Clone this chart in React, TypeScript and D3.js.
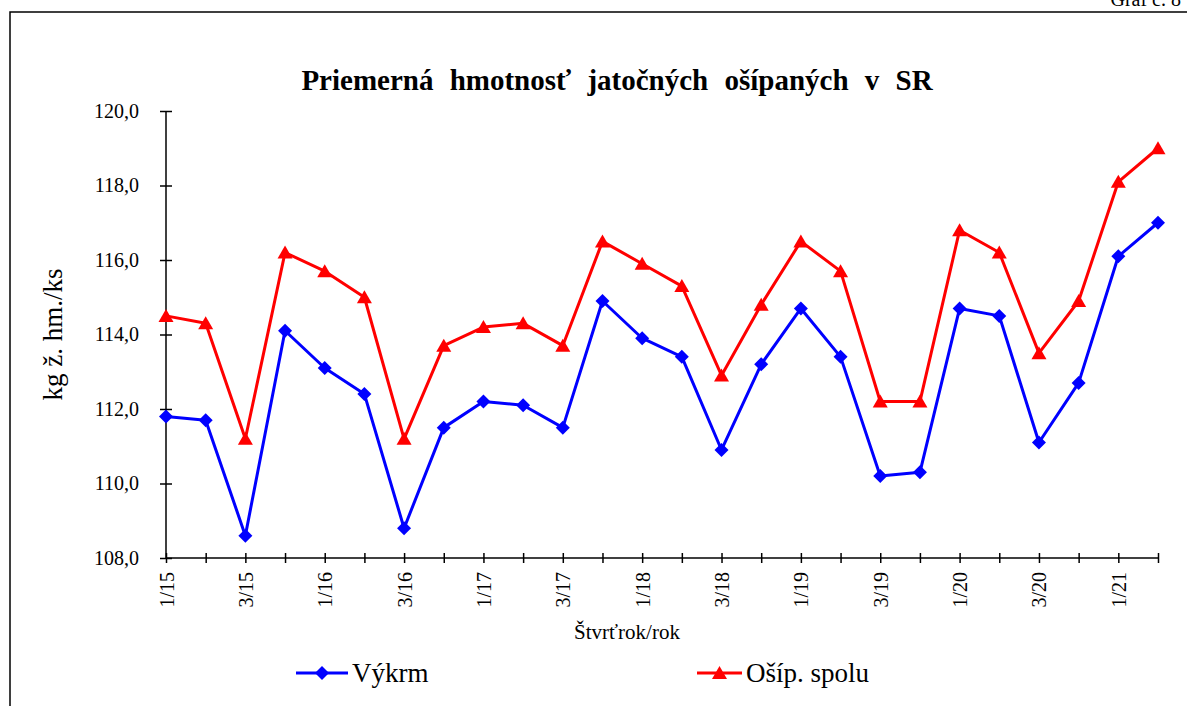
import React, { useEffect, useRef } from "react";
import { select, scalePoint, scaleLinear, line, axisLeft, axisBottom } from "d3";

// quarters 1/15 .. 2/21
const categories = [
  "1/15", "2/15", "3/15", "4/15",
  "1/16", "2/16", "3/16", "4/16",
  "1/17", "2/17", "3/17", "4/17",
  "1/18", "2/18", "3/18", "4/18",
  "1/19", "2/19", "3/19", "4/19",
  "1/20", "2/20", "3/20", "4/20",
  "1/21", "2/21",
];

const vykrm = [
  111.8, 111.7, 108.6, 114.1,
  113.1, 112.4, 108.8, 111.5,
  112.2, 112.1, 111.5, 114.9,
  113.9, 113.4, 110.9, 113.2,
  114.7, 113.4, 110.2, 110.3,
  114.7, 114.5, 111.1, 112.7,
  116.1, 117.0,
];

const osipSpolu = [
  114.5, 114.3, 111.2, 116.2,
  115.7, 115.0, 111.2, 113.7,
  114.2, 114.3, 113.7, 116.5,
  115.9, 115.3, 112.9, 114.8,
  116.5, 115.7, 112.2, 112.2,
  116.8, 116.2, 113.5, 114.9,
  118.1, 119.0,
];

const yTicks = [108, 110, 112, 114, 116, 118, 120];
const xTickLabels = categories.filter((d, i) => i % 2 === 0);

const width = 1187;
const height = 706;
const plot = { left: 166, right: 1158, top: 111, bottom: 558 };
const font = "'Liberation Serif', 'Times New Roman', serif";

const diamond = "M0,-7L7,0L0,7L-7,0Z";
const triangle = "M0,-7L7.5,6L-7.5,6Z";

function App() {
  const svgRef = useRef<SVGSVGElement>(null);

  useEffect(() => {
    const svg = select(svgRef.current);
    svg.selectAll("*").remove();

    const x = scalePoint<string>().domain(categories).range([plot.left, plot.right]);
    const y = scaleLinear().domain([108, 120]).range([plot.bottom, plot.top]);

    // frame
    svg.append("path")
      .attr("d", `M10,${height + 10}V12H${width + 10}`)
      .attr("fill", "none")
      .attr("stroke", "#000")
      .attr("stroke-width", 1.5);

    svg.append("text")
      .attr("x", 1181)
      .attr("y", 6)
      .attr("text-anchor", "end")
      .attr("font-family", font)
      .attr("font-size", 20)
      .text("Graf č. 8");

    svg.append("text")
      .attr("x", 617)
      .attr("y", 90)
      .attr("text-anchor", "middle")
      .attr("font-family", font)
      .attr("font-size", 29)
      .attr("font-weight", "bold")
      .attr("word-spacing", 9)
      .text("Priemerná hmotnosť jatočných ošípaných v SR");

    // y axis
    const yAxis = axisLeft(y)
      .tickValues(yTicks)
      .tickSize(6)
      .tickPadding(21)
      .tickFormat(d => (d as number).toFixed(1).replace(".", ","));
    const gy = svg.append("g")
      .attr("transform", `translate(${plot.left},0)`)
      .call(yAxis);
    gy.select(".domain").attr("stroke-width", 1.5).attr("d", `M0,${plot.top}V${plot.bottom}`);
    gy.selectAll(".tick line").attr("x1", 6).attr("stroke-width", 1.5);
    gy.selectAll(".tick text")
      .attr("font-family", font)
      .attr("font-size", 20)
      .attr("fill", "#000");

    // x axis
    const xAxis = axisBottom(x)
      .tickSize(5)
      .tickFormat(d => (xTickLabels.includes(d) ? d : ""));
    const gx = svg.append("g")
      .attr("transform", `translate(0,${plot.bottom})`)
      .call(xAxis);
    gx.select(".domain").attr("stroke-width", 1.5).attr("d", `M${plot.left},0H${plot.right}`);
    gx.selectAll(".tick line").attr("y1", -5).attr("stroke-width", 1.5);
    gx.selectAll(".tick text")
      .attr("font-family", font)
      .attr("font-size", 20)
      .attr("fill", "#000")
      .attr("text-anchor", "end")
      .attr("transform", "rotate(-90)")
      .attr("x", -14)
      .attr("y", 0)
      .attr("dy", "0.35em");

    svg.append("text")
      .attr("x", 627)
      .attr("y", 639)
      .attr("text-anchor", "middle")
      .attr("font-family", font)
      .attr("font-size", 21)
      .text("Štvrťrok/rok");

    svg.append("text")
      .attr("transform", `translate(62,${(plot.top + plot.bottom) / 2}) rotate(-90)`)
      .attr("text-anchor", "middle")
      .attr("font-family", font)
      .attr("font-size", 27)
      .text("kg ž. hm./ks");

    // series
    const series = [
      { name: "Výkrm", values: vykrm, color: "#0000ff", marker: diamond, lx: 296, lw: 52 },
      { name: "Ošíp. spolu", values: osipSpolu, color: "#ff0000", marker: triangle, lx: 697, lw: 45 },
    ];

    const lineGen = line<number>()
      .x((d, i) => x(categories[i]) as number)
      .y(d => y(d));

    series.forEach(s => {
      svg.append("path")
        .datum(s.values)
        .attr("d", lineGen)
        .attr("fill", "none")
        .attr("stroke", s.color)
        .attr("stroke-width", 3)
        .attr("stroke-linejoin", "round");

      svg.append("g")
        .selectAll("path")
        .data(s.values)
        .join("path")
        .attr("d", s.marker)
        .attr("transform", (d, i) => `translate(${x(categories[i])},${y(d)})`)
        .attr("fill", s.color);

      // legend
      const lg = svg.append("g").attr("transform", `translate(${s.lx},673)`);
      lg.append("line")
        .attr("x1", 0)
        .attr("x2", s.lw)
        .attr("stroke", s.color)
        .attr("stroke-width", 3);
      lg.append("path")
        .attr("d", s.marker)
        .attr("transform", `translate(${s.lw / 2},0)`)
        .attr("fill", s.color);
      lg.append("text")
        .attr("x", s.lw + 4)
        .attr("y", 9)
        .attr("font-family", font)
        .attr("font-size", 27)
        .text(s.name);
    });
  }, []);

  return (
    <svg
      ref={svgRef}
      width={width}
      height={height}
      style={{ position: "absolute", left: 0, top: 0, background: "#fff" }}
    />
  );
}

export default App;
